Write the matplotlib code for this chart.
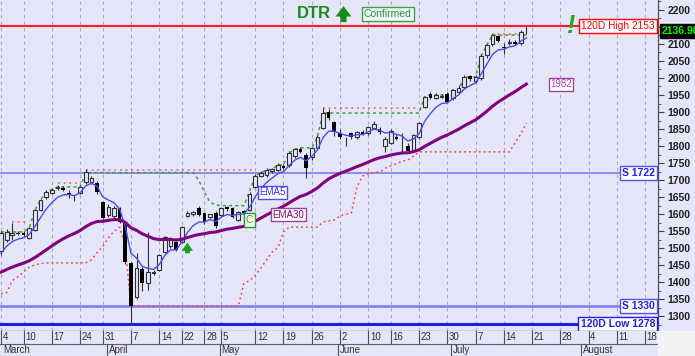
import numpy as np
import pandas as pd
import matplotlib
matplotlib.use('Agg')
import matplotlib.pyplot as plt
from matplotlib.patches import Rectangle
from matplotlib.ticker import MultipleLocator

plt.rcParams['font.family'] = ['Liberation Sans', 'DejaVu Sans']

# daily candles, index 0 = 4 March
opens = [1492, 1524, 1540, 1546, 1545, 1530, 1553, 1612, 1650, 1662,
         1676, 1678, 1662, 1648, 1662, 1695, 1696, 1692, 1636, 1598,
         1594, 1618, 1576, 1456, 1357, 1439, 1397, 1428, 1436, 1489,
         1506, 1518, 1518, 1596, 1600, 1618, 1603, 1592, 1603, 1598,
         1620, 1618, 1583, 1608, 1612, 1680, 1712, 1716, 1728, 1730,
         1742, 1745, 1770, 1792, 1774, 1768, 1795, 1853, 1900, 1871,
         1838, 1822, 1838, 1826, 1842, 1838, 1853, 1850, 1800, 1809,
         1828, 1822, 1800, 1788, 1826, 1915, 1952, 1942, 1944, 1952,
         1941, 1960, 1973, 2005, 1990, 2000, 2067, 2100, 2122, 2090,
         2104, 2106, 2103, 2138]
highs = [1552, 1556, 1574, 1552, 1550, 1562, 1615, 1646, 1670, 1678,
         1686, 1684, 1672, 1656, 1684, 1732, 1712, 1698, 1640, 1630,
         1624, 1622, 1580, 1460, 1486, 1445, 1548, 1436, 1484, 1536,
         1532, 1522, 1565, 1608, 1610, 1624, 1606, 1602, 1608, 1622,
         1625, 1620, 1610, 1612, 1665, 1718, 1728, 1735, 1735, 1750,
         1748, 1786, 1795, 1797, 1780, 1798, 1832, 1912, 1910, 1875,
         1850, 1828, 1842, 1845, 1848, 1860, 1875, 1855, 1826, 1850,
         1835, 1838, 1810, 1835, 1872, 1948, 1960, 1955, 1952, 1958,
         1968, 1978, 2008, 2010, 2008, 2070, 2100, 2128, 2126, 2102,
         2115, 2112, 2140, 2153]
lows = [1480, 1518, 1524, 1538, 1535, 1526, 1550, 1608, 1645, 1658,
        1672, 1668, 1648, 1640, 1658, 1690, 1690, 1660, 1585, 1592,
        1588, 1574, 1455, 1278, 1352, 1375, 1377, 1420, 1432, 1485,
        1500, 1492, 1515, 1592, 1596, 1595, 1572, 1588, 1558, 1594,
        1610, 1588, 1580, 1600, 1608, 1676, 1708, 1710, 1722, 1726,
        1732, 1740, 1765, 1780, 1706, 1760, 1790, 1850, 1878, 1830,
        1820, 1800, 1820, 1822, 1832, 1834, 1850, 1836, 1782, 1805,
        1818, 1782, 1780, 1785, 1822, 1912, 1938, 1938, 1940, 1926,
        1935, 1955, 1968, 1992, 1985, 1995, 2060, 2095, 2105, 2070,
        2098, 2096, 2098, 2130]
closes = [1546, 1548, 1546, 1542, 1538, 1560, 1612, 1642, 1665, 1672,
          1680, 1671, 1660, 1647, 1680, 1724, 1706, 1664, 1590, 1622,
          1618, 1578, 1460, 1330, 1442, 1398, 1430, 1431, 1480, 1533,
          1528, 1496, 1562, 1604, 1606, 1598, 1577, 1600, 1565, 1618,
          1614, 1592, 1606, 1603, 1660, 1712, 1722, 1730, 1732, 1745,
          1736, 1780, 1790, 1784, 1736, 1795, 1827, 1897, 1882, 1842,
          1826, 1820, 1826, 1840, 1836, 1856, 1866, 1841, 1822, 1845,
          1822, 1820, 1786, 1832, 1868, 1945, 1941, 1950, 1948, 1930,
          1965, 1972, 2003, 1996, 2003, 2065, 2097, 2126, 2110, 2088,
          2106, 2100, 2135, 2136.9]

# EMA values of the day before the first candle
ema5_prev = 1455
ema30_prev = 1422

# lower red dotted trailing line
stop_line = [1366, 1370, 1405, 1416, 1430, 1445, 1451, 1455, 1457, 1457,
             1457, 1457, 1457, 1457, 1457, 1457, 1466, 1487, 1505, 1530,
             1550, 1562, 1505, 1330, 1330, 1330, 1330, 1330, 1330, 1330,
             1330, 1330, 1330, 1330, 1330, 1330, 1330, 1330, 1330, 1330,
             1330, 1330, 1330, 1397, 1405, 1420, 1442, 1465, 1489, 1501,
             1548, 1562, 1562, 1562, 1562, 1562, 1562, 1577, 1580, 1583,
             1595, 1600, 1603, 1680, 1712, 1718, 1722, 1724, 1735, 1742,
             1748, 1755, 1759, 1770, 1783, 1783, 1783, 1783, 1783, 1783,
             1783, 1783, 1783, 1783, 1783, 1783, 1783, 1783, 1783, 1783,
             1783, 1810, 1835, 1868]

# green dashed line
green_line = [1548, 1548, 1548, 1548, 1548, 1560, 1612, 1642, 1665, 1672,
              1680, 1680, 1680, 1680, 1680, 1722, 1722, 1722, 1722, 1722,
              1722, 1722, 1722, 1722, 1722, 1722, 1722, 1722, 1722, 1722,
              1722, 1722, 1722, 1722, 1722, 1700, 1665, 1635, 1627, 1625,
              1625, 1625, 1625, 1625, 1668, 1712, 1722, 1730, 1732, 1745,
              1745, 1780, 1790, 1795, 1795, 1795, 1827, 1897, 1897, 1897,
              1897, 1897, 1897, 1897, 1897, 1897, 1897, 1897, 1897, 1897,
              1897, 1897, 1897, 1897, 1897, 1945, 1950, 1950, 1950, 1950,
              1965, 1965, 2003, 2003, 2003, 2065, 2097, 2126, 2126, 2126,
              2126, 2126, 2126, 2126]

# upper red dotted segments: (first day, last day, level)
high_segments = [(2, 5, 1576), (10, 14, 1692), (15, 45, 1730),
                 (57, 74, 1911), (87, 92, 2128)]

high120 = 2153
sup1 = 1722
sup2 = 1330
low120 = 1278
signal_day = 33
confirm_day = 44

tick_pos = [0, 4, 9, 14, 18, 23, 28, 32, 36, 39, 45, 50, 55, 60, 65, 69,
            74, 79, 84, 89, 94, 99, 104, 109, 114]
tick_lab = ['4', '10', '17', '24', '31', '7', '14', '22', '28', '5', '12',
            '19', '26', '2', '10', '16', '23', '30', '7', '14', '21', '28',
            '4', '11', '18']
month_pos = [0, 18.7, 38.7, 59.6, 79.6, 102.7]
month_lab = ['March', 'April', 'May', 'June', 'July', 'August']
price_ticks = list(range(1300, 2201, 50))

bg = '#E6E6FA'
W, H = 695, 356

s = pd.Series([float(v) for v in closes])
ema5 = pd.concat([pd.Series([ema5_prev]), s]).ewm(span=5, adjust=False).mean().iloc[1:].values
ema30 = pd.concat([pd.Series([ema30_prev]), s]).ewm(span=30, adjust=False).mean().iloc[1:].values

fig = plt.figure(figsize=(W / 100, H / 100), dpi=100, facecolor=bg)
ax = fig.add_axes([0, 25 / H, 658 / W, 331 / H], facecolor=bg)
ax.set_xlim(-0.18, 116.3)
ax.set_ylim(1257, 2229)

for t in tick_pos:
    ax.axvline(t, color='#ABABAB', ls=(0, (3, 3)), lw=0.8, zorder=1)

ax.axhline(high120, color='#FF1E1E', lw=1.5, zorder=2)
ax.axhline(sup1, color='#7C7CF2', lw=1.2, zorder=2)
ax.axhline(sup2, color='#7C7CF2', lw=1.8, zorder=2)
ax.axhline(low120, color='#1E1EE6', lw=2.2, zorder=2)

idx = np.arange(len(closes))
o = np.array(opens, float)
c = np.array(closes, float)
hi = np.array(highs, float)
lo = np.array(lows, float)

ax.plot(idx, stop_line, ls=(0, (1.2, 2)), color='#FF4040', lw=1.1, zorder=2)
ax.plot(idx, green_line, ls=(0, (2, 2)), color='#3C9E3C', lw=1.1, zorder=2)
for a, b, lev in high_segments:
    ax.plot([a, b], [lev, lev], ls=(0, (1.2, 2.5)), color='#FF5050', lw=1.1, zorder=2)

up = c >= o
ax.vlines(idx, lo, hi, color='#303030', lw=0.8, zorder=3)
ax.bar(idx[up], np.maximum(c - o, 1)[up], bottom=o[up], width=0.65,
       facecolor=bg, edgecolor='#303030', lw=0.8, zorder=4)
ax.bar(idx[~up], np.maximum(o - c, 1)[~up], bottom=c[~up], width=0.65,
       color='black', zorder=4)

ax.plot(idx, ema5, color='#4A4AFF', lw=1.0, zorder=5)
ax.plot(idx, ema30, color='#800080', lw=2.2, zorder=5)

# right-side level labels
yt = ax.get_yaxis_transform()
ax.text(0.9955, high120, f'120D High {high120}', transform=yt, ha='right', va='center',
        color='#FF0000', fontsize=7.3, zorder=6,
        bbox=dict(boxstyle='square,pad=0.2', fc='white', ec='#FF0000', lw=1))
ax.text(0.9955, sup1, f'S {sup1}', transform=yt, ha='right', va='center',
        color='#1E1EE6', fontsize=7.5, fontweight='bold', zorder=6,
        bbox=dict(boxstyle='square,pad=0.2', fc='white', ec='#5050F0', lw=1))
ax.text(0.9955, sup2, f'S {sup2}', transform=yt, ha='right', va='center',
        color='#1E1EE6', fontsize=7.5, fontweight='bold', zorder=6,
        bbox=dict(boxstyle='square,pad=0.2', fc='white', ec='#5050F0', lw=1))
ax.text(0.9955, low120, f'120D Low {low120}', transform=yt, ha='right', va='center',
        color='#1E1EE6', fontsize=7.5, fontweight='bold', zorder=6,
        bbox=dict(boxstyle='square,pad=0.2', fc='white', ec='#1E1EE6', lw=1))
ax.text(1.006, closes[-1], f'{closes[-1]:.2f}', transform=yt, ha='left', va='center',
        color='#00FF00', fontsize=7.5, fontweight='bold', clip_on=False, zorder=6,
        bbox=dict(boxstyle='square,pad=0.2', fc='black', ec='black'))

# indicator labels
ax.text(48.1, 1664, 'EMA5', ha='center', va='center', color='#3030FF', fontsize=7,
        bbox=dict(boxstyle='square,pad=0.15', fc='white', ec='#4A4AFF', lw=1), zorder=6)
ax.text(50.9, 1598, 'EMA30', ha='center', va='center', color='#800080', fontsize=7,
        bbox=dict(boxstyle='square,pad=0.15', fc='white', ec='#A040A0', lw=1), zorder=6)
ax.text(99.1, ema30[-1], f'{ema30[-1]:.0f}', ha='center', va='center', color='#A040A0',
        fontsize=7, bbox=dict(boxstyle='square,pad=0.15', fc='white', ec='#A040A0', lw=1), zorder=6)
ax.text(confirm_day, 1583, 'C', ha='center', va='center', color='#22A022', fontsize=7.5,
        bbox=dict(boxstyle='square,pad=0.15', fc='white', ec='#22A022', lw=1), zorder=6)
ax.annotate('', xy=(signal_day, lows[signal_day - 1] + 10), xytext=(signal_day, lows[signal_day - 1] - 38),
            arrowprops=dict(arrowstyle='simple,head_width=0.8,head_length=0.6,tail_width=0.35',
                            color='#1E9E1E', lw=0), zorder=6)
ax.text(100.7, high120, '!', ha='center', va='center', color='#22AA22', fontsize=18,
        fontweight='bold', style='italic', zorder=6)

# header
ax.text(0.451, 0.958, 'DTR', transform=ax.transAxes, ha='left', va='center',
        color='#1A8A1A', fontsize=12, fontweight='bold')
ax.annotate('', xy=(0.522, 0.99), xytext=(0.522, 0.925), xycoords='axes fraction',
            arrowprops=dict(arrowstyle='simple,head_width=1.15,head_length=0.75,tail_width=0.45',
                            color='#1A8A1A', lw=0))
ax.text(0.553, 0.958, 'Confirmed', transform=ax.transAxes, ha='left', va='center',
        color='#1E9A1E', fontsize=7.5,
        bbox=dict(boxstyle='square,pad=0.2', fc='#F4F4FF', ec='#3CA03C', lw=1))

# price axis on the right; the 2150 label sits under the last-price box
ax.yaxis.tick_right()
ax.set_yticks(price_ticks)
ax.set_yticklabels(['' if abs(v - closes[-1]) < 25 else str(v) for v in price_ticks])
ax.yaxis.set_minor_locator(MultipleLocator(25))
ax.tick_params(axis='y', which='major', length=4, width=0.8, color='#404040',
               labelsize=7.5, pad=3, labelcolor='#202020')
ax.tick_params(axis='y', which='minor', length=2, width=0.6, color='#404040')
for lab in ax.get_yticklabels():
    lab.set_fontweight('bold')
ax.set_xticks([])
for side in ['left', 'top']:
    ax.spines[side].set_visible(False)
for side in ['right', 'bottom']:
    ax.spines[side].set_color('#505050')
    ax.spines[side].set_linewidth(0.9)

# date rows
axd = fig.add_axes([0, 0, 658 / W, 25 / H], facecolor=bg)
axd.set_xlim(ax.get_xlim())
axd.set_ylim(0, 25)
axd.axhline(12.5, color='#606060', lw=0.8)
for t, lab in zip(tick_pos, tick_lab):
    axd.plot([t, t], [12.5, 25], color='#505050', lw=0.8)
    axd.text(t + 0.3, 18.5, lab, ha='left', va='center', fontsize=7, color='#303030')
for m, lab in zip(month_pos, month_lab):
    if m > 0:
        axd.plot([m, m], [0, 12.5], color='#505050', lw=0.8)
    axd.text(m + 0.35, 6, lab, ha='left', va='center', fontsize=7, color='#303030')
axd.set_xticks([])
axd.set_yticks([])
for side in axd.spines:
    axd.spines[side].set_visible(False)

fig.patches.append(Rectangle((658 / W, 0), 1 - 658 / W, 25 / H, transform=fig.transFigure,
                             facecolor='#F2F2F2', edgecolor='none', zorder=0))

fig.savefig('out.png', dpi=100, facecolor=bg)
